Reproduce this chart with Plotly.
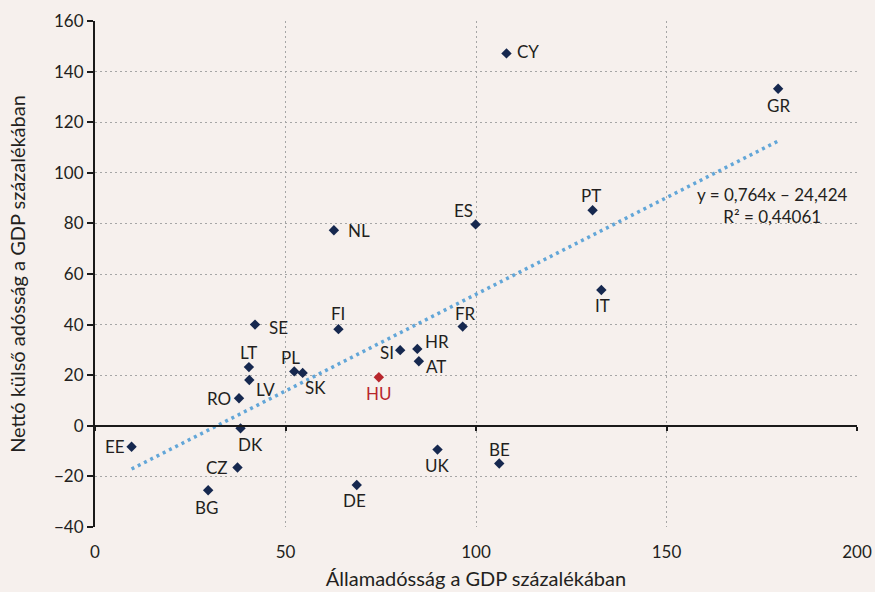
import plotly.graph_objects as go

# data: public debt vs net external debt, % of GDP
countries = ['CY', 'GR', 'PT', 'ES', 'NL', 'IT', 'FR', 'FI', 'SE', 'LT', 'LV', 'RO',
             'DK', 'CZ', 'BG', 'PL', 'SK', 'SI', 'HR', 'AT', 'HU', 'UK', 'DE', 'EE', 'BE']
gov_debt = [108.0, 179.3, 130.6, 99.9, 62.7, 132.9, 96.5, 63.9, 42.0, 40.4, 40.5, 37.8,
            38.2, 37.4, 29.7, 52.3, 54.5, 80.1, 84.6, 85.0, 74.5, 89.9, 68.7, 9.6, 106.1]
net_ext_debt = [147.2, 133.2, 85.2, 79.6, 77.3, 53.7, 39.2, 38.2, 40.0, 23.2, 18.1, 10.9,
                -1.0, -16.5, -25.5, 21.5, 20.9, 29.9, 30.4, 25.5, 19.2, -9.4, -23.4, -8.3, -14.9]

slope = 0.764
intercept = -24.424
r2 = 0.44061

# label offsets in px (dx, dy with dy positive = down)
label_pos = {
    'CY': (22, -2), 'GR': (0, 17), 'PT': (-2, -15), 'ES': (-12, -14), 'NL': (25, 0),
    'IT': (1, 16), 'FR': (3, -13), 'FI': (0, -16), 'SE': (23, 3), 'LT': (0, -15),
    'LV': (16, 9), 'RO': (-20, 0), 'DK': (10, 16), 'CZ': (-20, 0), 'BG': (-2, 17),
    'PL': (-4, -14), 'SK': (13, 15), 'SI': (-13, 2), 'HR': (20, -7), 'AT': (17, 5),
    'HU': (0, 16), 'UK': (0, 16), 'DE': (-2, 15), 'EE': (-17, 0), 'BE': (0, -14),
}

bg = '#F6F0ED'
navy = '#16284F'
red = '#B8262C'
txt = '#231F20'
font = 'Lato, "Open Sans", sans-serif'
fs = 17

colors = [red if c == 'HU' else navy for c in countries]

fig = go.Figure()

# trendline
x0, x1 = min(gov_debt), max(gov_debt)
fig.add_trace(go.Scatter(x=[x0, x1], y=[slope * x0 + intercept, slope * x1 + intercept],
                         mode='lines', line=dict(color='#62A6D8', width=3.5, dash='3px,4px'),
                         hoverinfo='skip', showlegend=False))

fig.add_trace(go.Scatter(x=gov_debt, y=net_ext_debt, mode='markers', text=countries,
                         marker=dict(symbol='diamond', size=8, color=colors),
                         hovertemplate='%{text}: %{x}, %{y}<extra></extra>',
                         showlegend=False))

annotations = []
for c, x, y in zip(countries, gov_debt, net_ext_debt):
    dx, dy = label_pos[c]
    annotations.append(dict(x=x, y=y, text=c, showarrow=False, xshift=dx, yshift=-dy,
                            font=dict(size=fs, color=red if c == 'HU' else txt, family=font)))

annotations.append(dict(x=177.9, y=87, text=f'y = {slope:.3f}x – {-intercept:.3f}'.replace('.', ',')
                        + '<br>' + f'R² = {r2}'.replace('.', ','),
                        showarrow=False, align='center',
                        font=dict(size=fs, color=txt, family=font)))

fig.update_layout(
    width=875, height=592,
    paper_bgcolor=bg, plot_bgcolor=bg,
    margin=dict(l=95, r=18, t=21, b=65),
    font=dict(family=font, size=fs, color=txt),
    annotations=annotations,
    xaxis=dict(range=[0, 200], dtick=50, showgrid=True, gridcolor='#A6A6A6', griddash='2px,3px',
               gridwidth=1, zeroline=False, showline=False, automargin=False,
               ticks='outside', ticklen=10, tickcolor=bg,
               title=dict(text='Államadósság a GDP százalékában', standoff=10),
               tickfont=dict(size=fs)),
    xaxis2=dict(range=[0, 200], dtick=50, overlaying='x', anchor='free', position=0.2,
                side='bottom', showgrid=False, zeroline=False, showline=True, linecolor='#1A1A1A',
                linewidth=2, ticks='outside', ticklen=4, tickwidth=2, tickcolor='#1A1A1A',
                showticklabels=False),
    yaxis=dict(range=[-40, 160], dtick=20, showgrid=True, gridcolor='#A6A6A6', griddash='2px,3px',
               gridwidth=1, zeroline=False, showline=True, linecolor='#1A1A1A', linewidth=2,
               ticks='outside', ticklen=6, tickwidth=2, tickcolor='#1A1A1A', automargin=False,
               title=dict(text='Nettó külső adósság a GDP százalékában', standoff=23),
               tickfont=dict(size=fs)),
)

# invisible trace so the zero-line axis is drawn
fig.add_trace(go.Scatter(x=[0], y=[0], xaxis='x2', mode='markers', marker=dict(opacity=0),
                         hoverinfo='skip', showlegend=False))

fig.write_html('out.html', config={'displayModeBar': False},
               post_script="document.body.style.margin='0';")
